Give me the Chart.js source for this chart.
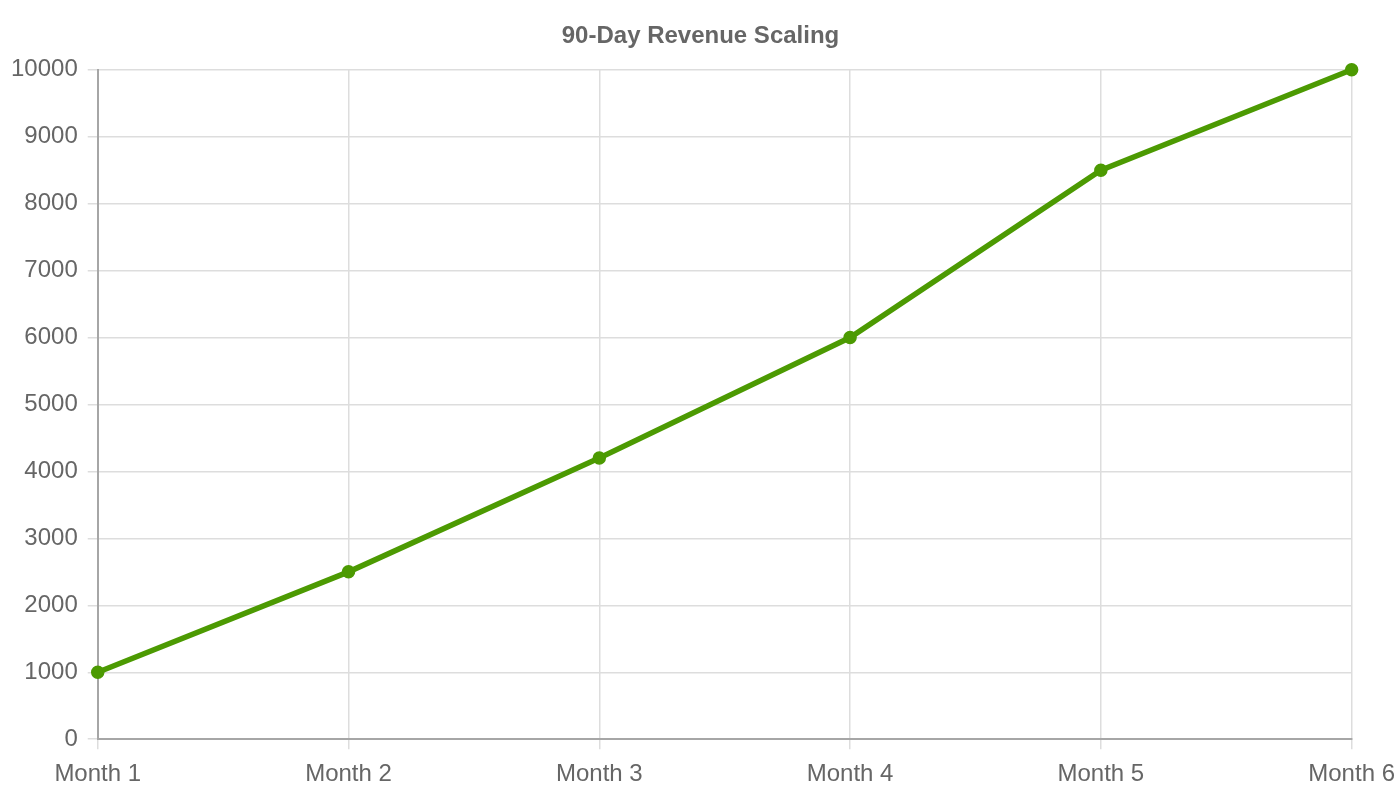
<!DOCTYPE html>
<html>
<head>
<meta charset="utf-8">
<script src="https://cdn.jsdelivr.net/npm/chart.js@4"></script>
<style>
  html, body { margin: 0; padding: 0; background: #fff; }
  #wrap { width: 1400px; height: 800px; }
</style>
</head>
<body>
<div id="wrap"><canvas id="revenue"></canvas></div>
<script>
/* 90-day revenue line */
const months = ["Month 1", "Month 2", "Month 3", "Month 4", "Month 5", "Month 6"];
const revenue = [1000, 2500, 4200, 6000, 8500, 10000];
const yTicks = { min: 0, max: 10000, step: 1000 };

const GREEN = "#4c9a02";
const TEXT = "#666666";
const FONT = "'Liberation Sans', Arial, sans-serif";

new Chart(document.getElementById("revenue"), {
  type: "line",
  data: {
    labels: months,
    datasets: [{
      label: "Revenue",
      data: revenue,
      borderColor: GREEN,
      backgroundColor: GREEN,
      borderWidth: 5.5,
      pointRadius: 6,
      pointBackgroundColor: GREEN,
      pointBorderColor: GREEN,
      pointBorderWidth: 1.5,
      tension: 0,
      fill: false,
      clip: false
    }]
  },
  options: {
    responsive: true,
    maintainAspectRatio: false,
    animation: false,
    layout: { padding: { left: 1, right: 0, top: 10, bottom: 0 } },
    plugins: {
      legend: { display: false },
      title: {
        display: true,
        text: "90-Day Revenue Scaling",
        color: TEXT,
        font: { family: FONT, size: 24, weight: "bold" },
        padding: { top: 12, bottom: 19 }
      },
      tooltip: { enabled: false }
    },
    scales: {
      x: {
        grid: { color: "#dddddd", lineWidth: 1.5, tickLength: 10 },
        border: { color: "#a6a6a6", width: 2 },
        ticks: { color: TEXT, font: { family: FONT, size: 24 }, padding: 11 },
        // last label may sit a little closer to the edge
        afterFit: (s) => { s.paddingRight = Math.max(0, s.paddingRight - 6); }
      },
      y: {
        min: yTicks.min,
        max: yTicks.max,
        grid: { color: "#dddddd", lineWidth: 1.5, tickLength: 10 },
        border: { color: "#a6a6a6", width: 2 },
        ticks: {
          stepSize: yTicks.step,
          color: TEXT,
          font: { family: FONT, size: 24 },
          padding: 10,
          callback: (v) => String(v)
        }
      }
    }
  }
});
</script>
</body>
</html>
